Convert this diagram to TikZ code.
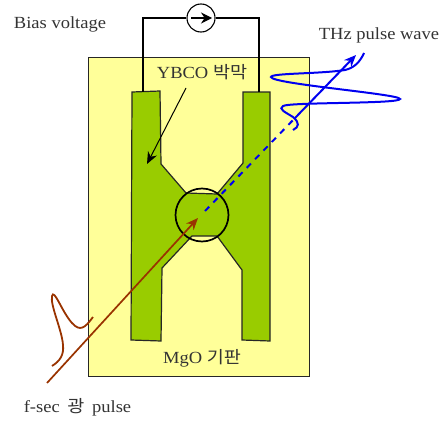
\documentclass[tikz,border=0pt]{standalone}
\usepackage{fontspec}
\setmainfont[FakeStretch=1.09]{Liberation Serif}
\newfontfamily\cjk[FakeStretch=1.09]{Noto Sans CJK KR}
\usetikzlibrary{arrows.meta}
\definecolor{substrate}{HTML}{FFFF99}
\definecolor{film}{HTML}{99CC00}
\definecolor{pulsered}{HTML}{993300}
\definecolor{wave}{HTML}{0000F0}
\tikzset{
    label/.style={inner sep=0pt, text=black!80, font=\fontsize{17}{19}\selectfont},
    tip/.style={-{Stealth[length=12pt, width=10pt]}},
}
\begin{document}
\begin{tikzpicture}[x=1pt, y=-1pt]
    \useasboundingbox (0,0) rectangle (446,420);

    \draw (88,57) node[draw=black!85, fill=substrate, line width=1.3pt, minimum width=221pt, minimum height=319pt, inner sep=0pt, anchor=north west] (mgo) {};

    \draw[draw=black!85, fill=film, line width=1.2pt] (132,92) -- (160,91) -- (161,164) -- (186,193) -- (217,194) -- (243,163) -- (243,92) -- (270,92) -- (270,341) -- (242,340) -- (242,270) -- (217,236) -- (192,236) -- (162,268) -- (161,341) -- (131,340) -- cycle;

    \draw (201,18) node[draw, circle, fill=white, line width=1.1pt, minimum size=28pt, inner sep=0pt] (source) {};
    \draw (143,92) coordinate (left);
    \draw (259,92) coordinate (right);
    \draw[line width=1.1pt] (source) -| (left);
    \draw[line width=1.1pt] (source) -| (right);
    \draw (191,18) coordinate (s1);
    \draw (212,18) coordinate (s2);
    \draw[-{Stealth[length=11pt, width=11pt]}, line width=1.1pt] (s1) -- (s2);

    \draw (202,215) node[draw, circle, line width=1.7pt, minimum size=53pt, inner sep=0pt] (spot) {};

    \draw (60,24) node[label] (bias) {Bias voltage};
    \draw (379,35) node[label] (thz) {THz pulse wave};
    \draw (202,72) node[label] (ybco) {YBCO {\cjk 박막}};
    \draw (202,358) node[label] (mgolabel) {MgO {\cjk 기판}};
    \draw (77.5,407) node[label] (fsec) {f-sec\hspace{3pt} {\cjk 광}\hspace{3pt} pulse};

    \draw (186,88) coordinate (y1);
    \draw (147,164) coordinate (y2);
    \draw[tip, line width=1pt] (y1) -- (y2);

    \draw (47,383) coordinate (p1);
    \draw (198,218) coordinate (p2);
    \draw[tip, pulsered, line width=1.7pt] (p1) -- (p2);

    \draw (205,211) coordinate (w1);
    \draw (295,118) coordinate (w2);
    \draw (356,55) coordinate (w3);
    \draw[wave, line width=2pt, dash pattern=on 6pt off 6pt] (w1) -- (w2);
    \draw[tip, wave, line width=2pt] (w2) -- (w3);

    \draw[pulsered, line width=1.8pt] (52,366) .. controls (60,361) and (64,355) .. (63,345) .. controls (62,330) and (50,305) .. (52,296) .. controls (54,288) and (62,312) .. (72,323) .. controls (80,332) and (85,328) .. (93,317);

    \draw[wave, line width=2pt] (293,130) .. controls (299,127) and (300,123) .. (293,117) .. controls (285,112) and (278,109) .. (283,106) .. controls (290,102) and (400,104) .. (400,99) .. controls (400,94) and (272,84) .. (271,77) .. controls (271,73) and (320,74) .. (345,70) .. controls (354,68) and (360,62) .. (364,53);
\end{tikzpicture}
\end{document}
